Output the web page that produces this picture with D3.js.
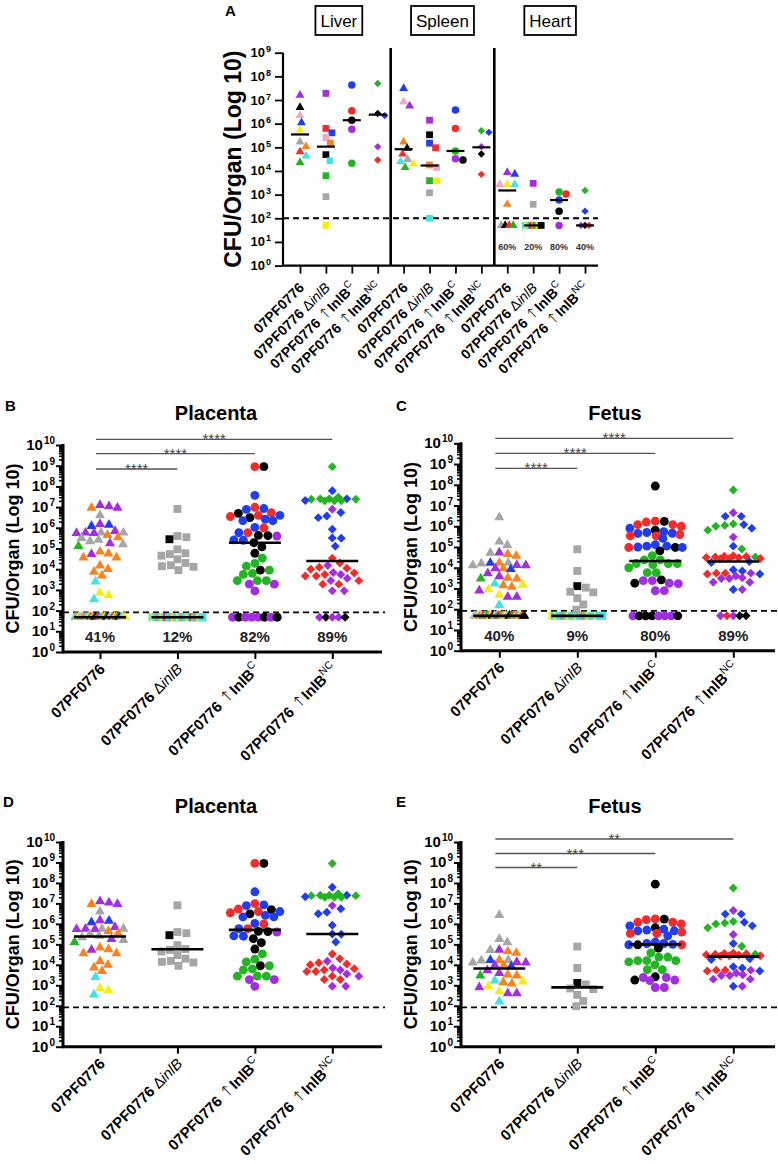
<!DOCTYPE html>
<html><head><meta charset="utf-8">
<script src="https://cdn.jsdelivr.net/npm/d3@7"></script>
<style>
body{margin:0;background:#fff}
svg{display:block}
text{font-family:"Liberation Sans",Arial,Helvetica,sans-serif}
</style>
</head><body>
<svg id="chart" width="778" height="1164"></svg>
<script>
// ================= DATA =================
const organs = ["Liver","Spleen","Heart"];
const strains = ["07PF0776","07PF0776 ΔinlB","07PF0776 ↑InlB^C","07PF0776 ↑InlB^NC"];
const yExponentsA = [0,1,2,3,4,5,6,7,8,9];
const yExponentsB = [0,1,2,3,4,5,6,7,8,9,10];
const heartPositive = ["60%","20%","80%","40%"];
const lodA = 100;

// Panel A: [animal colour key, CFU]
const liverWT  = [["p",1.6e7],["k",4.9e6],["pk",2.2e6],["b",1.1e6],["y",5.4e5],["g",1.7e5],["o",1.1e5],["r",6.5e4],["c",4.3e4],["gr",2.3e4]];
const liverDel = [["p",1.9e7],["r",6.3e5],["b",4.1e5],["pk",2.6e5],["o",1.5e5],["k",4.9e4],["c",2.7e4],["gr",6.3e3],["g",8.2e2],["y",50]];
const liverC   = [["b",4.3e7],["r",3.5e6],["k",1.4e6],["p",5.8e5],["gr",2.1e4]];
const liverNC  = [["gr",5e7],["k",2.7e6],["b",2.2e6],["p",1.07e5],["r",2.9e4]];
const spleenWT  = [["b",3.1e7],["pk",8.5e6],["p",5.6e6],["o",1.7e5],["k",9.1e4],["r",5.2e4],["g",3.1e4],["c",2.5e4],["y",2e4],["gr",1.4e4]];
const spleenDel = [["p",1.4e6],["k",3.4e5],["b",1.5e5],["r",9.6e4],["o",1.8e4],["pk",1.4e4],["y",3.8e3],["gr",3.9e3],["g",1.2e3],["c",100]];
const spleenC   = [["b",3.8e6],["r",6.3e5],["gr",7e4],["k",2.9e4],["p",3.3e4]];
const spleenNC  = [["b",4.3e5],["gr",5e5],["p",1.07e5],["k",5.2e4],["r",7.2e3]];
const heartWT  = [["p",8.7e3],["b",7.4e3],["y",2.7e3],["c",2.7e3],["pk",2.7e3],["o",3.9e2],["g",50],["k",50],["r",50],["gr",50]];
const heartDel = [["p",3e3],["g",3.9e2],["c",50],["y",50],["c",50],["r",50],["o",50],["gr",50],["y",50],["k",50]];
const heartC   = [["gr",1.3e3],["r",1.07e3],["b",5.9e2],["k",2e2],["p",50]];
const heartNC  = [["gr",1.5e3],["b",2e2],["p",50],["k",50],["r",50]];
const mediansA = [3.5e5,1.07e5,1.4e6,2.4e6, 8.3e4,1.7e4,7e4,1.0e5, 1.5e3,50,5.9e2,50];

// Panels B-E
const lodB = 83;
const negValue = 48;
const placentaWT = [["o",9.3e6],["p",1.26e7],["p",9.3e6],["p",1.1e7],["g",4e6],["b",1.4e6],["b",1.2e6],["p",1.5e6],["o",4.5e5],["g",5.8e5],["p",5.5e5],["p",5.8e5],["p",6.9e5],["g",5.8e5],["p",5.5e5],["o",3.5e5],["g",3.2e5],["g",1.6e5],["g",2.2e5],["g",2.6e5],["p",1.8e5],["gr",1.3e5],["o",7e4],["p",5.4e4],["o",5.7e4],["o",3.6e4],["o",3.6e4],["o",1.5e4],["o",4.9e3],["o",1e4],["o",7.4e3],["c",2.5e3],["y",7.3e2],["y",5.5e2],["c",3.5e2]];
const placentaDel = [["g",8.1e6],["k",2.8e5],["g",4e5],["g",3.5e5],["g",9.1e4],["g",4.5e4],["g",3e4],["g",2e4],["g",1.3e4],["g",9e3],["g",5.9e4],["g",5.4e4],["g",1.55e4],["g",1.4e4]];
const placentaC = [["r",9e8],["k",9e8],["b",3.7e7],["b",7.8e6],["r",9.8e6],["b",8.5e6],["r",3.5e6],["r",4e6],["k",5e6],["r",5.3e6],["b",4e6],["k",3.1e6],["b",2.2e6],["b",2.2e6],["b",2.6e6],["b",1.05e6],["r",1e6],["r",5.8e5],["b",5.8e5],["k",4.2e5],["p",4e5],["k",4.3e5],["b",2.6e5],["b",2.5e5],["k",1.9e5],["k",1.2e5],["k",5.9e4],["gr",3.4e4],["gr",1.9e4],["gr",1.4e4],["gr",6.3e3],["k",9e3],["gr",9e3],["gr",5.6e3],["gr",2.8e3],["gr",2.8e3],["gr",2.8e3],["p",1.9e3],["p",1.9e3],["p",8.9e2]];
const placentaNC = [["gr",9e8],["b",6.2e7],["gr",3e7],["gr",2.5e7],["gr",2.5e7],["gr",2e7],["gr",2e7],["gr",2.4e7],["gr",2e7],["gr",2.4e7],["b",2.5e7],["b",2.1e7],["p",7.8e6],["b",3.7e6],["b",5.5e6],["b",3.1e6],["b",8.5e5],["b",3.1e5],["b",3.2e5],["b",1.3e5],["r",3.4e4],["r",2e4],["r",1.1e4],["r",1.25e4],["p",1.5e4],["r",1e4],["p",7e3],["r",6.5e3],["r",4.7e3],["r",4.7e3],["r",5.6e3],["p",5.6e3],["p",2.8e3],["r",2.8e3],["p",3.6e3],["r",1.9e3],["r",1.9e3],["p",9e2],["p",9e2]];
const placentaNegWT  = ["c","o","y","c","pk","o","g","c","y","r","pk","gr","k","r","p","c","o","y","gr","k","pk","c","r","y","o","gr","k","c","pk","y"];
const placentaNegDel = ["c","y","c","c","o","c","y","c","r","c","c","o","y","c","c","y","c","o","c","c","y","c","r","c","o","c","y","c"];
const placentaNegC   = ["p","k","p","p","p","k","p","k"];
const placentaNegNC  = ["p","k","p","p","k"];

const fetusWT = [["g",2.7e6],["g",1.8e5],["g",1.25e5],["o",3.8e4],["g",5.3e4],["o",4.5e4],["p",5.4e4],["o",1.7e4],["g",1.7e4],["g",1.6e4],["p",1.35e4],["p",1.3e4],["g",1.3e4],["b",1.7e4],["o",9.4e3],["p",9.4e3],["b",8.5e3],["p",5.4e3],["o",3.3e3],["p",3.9e3],["o",3e3],["gr",3e3],["y",1.5e3],["o",1.4e3],["c",1.7e3],["o",1.2e3],["y",9e2],["p",8e2],["p",4e2],["y",5e2],["p",4e2],["c",1.6e2]];
const fetusDel = [["g",7.8e4],["g",7e3],["k",1.3e3],["g",7e2],["g",6.5e2],["g",1.1e3],["g",3.4e2],["g",1.7e2],["g",95]];
const fetusC = [["k",8.7e7],["k",1.7e6],["r",1.6e6],["r",1.75e6],["r",1.2e6],["r",1.2e6],["r",1e6],["k",6.5e5],["b",8e5],["b",2.6e5],["b",4.5e5],["b",5e5],["b",5.5e5],["r",4e5],["r",3.4e5],["r",3.4e5],["b",4.6e5],["b",1.1e5],["b",1.3e5],["b",1.1e5],["k",9.5e4],["r",9.5e4],["b",1e5],["b",9.5e4],["k",6.5e4],["gr",3.8e4],["gr",2.4e4],["gr",2.4e4],["gr",1.6e4],["gr",1.6e4],["gr",1.6e4],["gr",5.8e3],["gr",5.8e3],["gr",1e4],["gr",1.4e4],["p",1.8e3],["p",2.4e3],["p",1.7e3],["p",2.4e3],["k",1.8e3],["k",2.6e3],["p",7.8e2],["p",7.8e2]];
const fetusNC = [["gr",5.6e7],["p",4.5e6],["b",3e6],["b",3e6],["b",1.2e6],["gr",1.3e6],["gr",1.1e6],["gr",1e6],["b",8e5],["gr",6.5e5],["p",3e5],["b",1.1e5],["gr",8e4],["r",3.5e4],["r",3.3e4],["r",3e4],["gr",3.3e4],["r",3.6e4],["r",3.8e4],["r",3.1e4],["r",2.8e4],["r",2.7e4],["r",2.8e4],["b",2e4],["b",1.8e4],["b",7e3],["b",8e3],["r",5.5e3],["r",5.5e3],["r",5e3],["b",5e3],["p",5.5e3],["p",4e3],["p",3e3],["p",3.3e3],["p",3e3],["p",2e3],["p",2e3],["b",9e2],["p",9e2]];
const fetusNegWT  = ["pk","c","y","o","pk","r","c","gr","o","y","k","pk","c","r","gr","o","pk","y","c","k","r","gr","pk","o","c","y","r","k"];
const fetusNegDel = ["y","c","y","c","c","o","c","y","c","c","y","c","c","o","c","y","c","c","y","c","c"];
const fetusNegC   = ["p","k","k","k","p","p","p","k"];
const fetusNegNC  = ["p","r","p","k","k"];

const mediansB = [48,48,1.9e5,2.5e4];
const mediansC = [48,48,2.1e4,2.0e4];
const mediansD = [2.4e5,5.8e4,5.1e5,3.2e5];
const mediansE = [6.6e3,7.9e2,1.0e5,2.5e4];
const percentB = ["41%","12%","82%","89%"];
const percentC = ["40%","9%","80%","89%"];
const sigB = [[0,1,"****"],[0,2,"****"],[0,3,"****"]];
const sigC = [[0,1,"****"],[0,2,"****"],[0,3,"****"]];
const sigE = [[0,1,"**"],[0,2,"***"],[0,3,"**"]];

// ================= DRAWING =================
const palette = {o:"#F7841F", p:"#A22DE2", g:"#A6A6A6", b:"#1F3DF2", c:"#3EE4EA", y:"#F7EC17", gr:"#22B422", pk:"#F4A5C8", r:"#F32B2B", k:"#000000"};
const symbolTypes = [d3.symbolTriangle, d3.symbolSquare, d3.symbolCircle, d3.symbolSquare];
const svg = d3.select("#chart");

function labelParts(s){
  const i = s.indexOf(" ");
  if (i < 0) return [{t:s, w:"bold"}];
  const base = s.slice(0,i+1), rest = s.slice(i+1);
  const parts = [{t:base, w:"bold"}];
  if (rest[0] === "Δ") { parts.push({t:"Δ", w:"normal"}); parts.push({t:rest.slice(1), w:"normal", it:true}); }
  else if (rest[0] === "↑") { const [gene, sup] = rest.slice(1).split("^"); parts.push({t:"↑", w:"normal", arrow:true}); parts.push({t:gene, w:"bold"}); if (sup) parts.push({t:sup, w:"normal", sup:true}); }
  else parts.push({t:rest, w:"bold"});
  return parts;
}

function strainLabel(g, s, x, y, fs, supFs){
  const t = g.append("text").attr("transform", `translate(${x},${y}) rotate(-45)`)
    .attr("text-anchor","end").attr("font-size", fs).attr("fill","#000");
  labelParts(s).forEach(p => {
    const ts = t.append("tspan").text(p.t).attr("font-weight", p.w);
    if (p.it) ts.attr("font-style","italic");
    if (p.arrow) ts.attr("font-family","'DejaVu Sans Light','DejaVu Sans',sans-serif").attr("font-weight",200).attr("font-size", fs*1.05);
    if (p.sup) ts.attr("font-size", supFs).attr("dy", -fs*0.45);
  });
}

function swarm(pts, yS, cx, diam, maxHalf){
  const items = pts.map((p,i)=>({c:p[0], v:p[1], y:yS(p[1]), i})).sort((a,b)=>a.y-b.y || a.i-b.i);
  const placed = [];
  for (const p of items){
    let d = diam, found = null;
    while (found === null){
      for (let k=0; k<=maxHalf*4; k++){
        const o = (k%2 ? 1 : -1) * Math.ceil(k/2) * 0.5;
        if (Math.abs(o) > maxHalf) break;
        const x = cx + o;
        if (placed.every(q => (q.x-x)*(q.x-x) + (q.y-p.y)*(q.y-p.y) >= d*d)) { found = o; break; }
      }
      d *= 0.88;
      if (d < 1 && found === null) found = 0;
    }
    p.x = cx + found; placed.push(p);
  }
  return placed;
}
function rowLayout(colors, v, yS, cx, maxStep, maxW){
  const n = colors.length, step = n > 1 ? Math.min(maxStep, maxW/(n-1)) : 0;
  return colors.map((c,i)=>({c, v, y:yS(v), x:cx + (i-(n-1)/2)*step}));
}
function drawMarkers(g, pts, gi, sizes){
  pts.forEach(p => {
    g.append("path").attr("d", d3.symbol(symbolTypes[gi], sizes[gi])())
      .attr("transform", `translate(${p.x},${p.y})${gi===3?" rotate(45)":""}`)
      .attr("fill", palette[p.c]);
  });
}
function yTickLabels(g, yS, exps, xEnd, fs, supFs, dyBase, supDy){
  exps.forEach(e => {
    const t = g.append("text").attr("x", xEnd).attr("y", yS(10**e) + dyBase)
      .attr("text-anchor","end").attr("font-weight","bold").attr("font-size", fs);
    t.append("tspan").text("10");
    t.append("tspan").text(String(e)).attr("font-size", supFs).attr("dy", supDy).attr("dx", 1);
  });
}

// ---------- Panel A ----------
(function(){
  const g = svg.append("g");
  const yA = d3.scaleLog().domain([1,1e9]).range([265.6,52.7]);
  const keys = d3.range(12);
  const xA = d3.scalePoint().domain(keys).range([300,585]);
  const left = 283, right = 598, bottom = yA(1);
  const dataA = [liverWT,liverDel,liverC,liverNC, spleenWT,spleenDel,spleenC,spleenNC, heartWT,heartDel,heartC,heartNC];
  const sizes = [34, 46, 44, 27];

  g.append("text").attr("x",225).attr("y",16).attr("font-weight","bold").attr("font-size",15).text("A");

  const ya = g.append("g").attr("transform",`translate(${left},0)`)
    .call(d3.axisLeft(yA).tickValues(yExponentsA.map(e=>10**e)).tickSize(8).tickSizeOuter(0).tickFormat(""));
  ya.select(".domain").remove();
  ya.selectAll(".tick line").attr("stroke-width",1.8);
  g.append("line").attr("x1",left).attr("x2",left).attr("y1",yA(1e9)).attr("y2",bottom).attr("stroke","#000").attr("stroke-width",2.2);
  yTickLabels(g, yA, yExponentsA, 271, 13, 9, 4.5, -5);

  const xa = g.append("g").attr("transform",`translate(0,${bottom})`)
    .call(d3.axisBottom(xA).tickSize(8).tickSizeOuter(0).tickFormat(""));
  xa.select(".domain").remove();
  xa.selectAll(".tick line").attr("stroke-width",1.8);
  g.append("line").attr("x1",left).attr("x2",right).attr("y1",bottom).attr("y2",bottom).attr("stroke","#000").attr("stroke-width",2.2);

  [3,7].forEach(k => {
    const sx = (xA(k)+xA(k+1))/2;
    g.append("line").attr("x1",sx).attr("x2",sx).attr("y1",48).attr("y2",bottom).attr("stroke","#000").attr("stroke-width",2.6);
  });

  g.append("line").attr("x1",left).attr("x2",right).attr("y1",yA(lodA)).attr("y2",yA(lodA))
    .attr("stroke","#000").attr("stroke-width",2).attr("stroke-dasharray","6,4");

  organs.forEach((o,oi) => {
    const cx = (xA(oi*4)+xA(oi*4+3))/2 + (oi===2 ? 4 : 0);
    const t = g.append("text").attr("x",cx).attr("y",27).attr("text-anchor","middle").attr("font-size",17).text(o);
    const w = t.node().getComputedTextLength() + 10;
    g.insert("rect","text").attr("x",cx-w/2).attr("y",6).attr("width",w).attr("height",29)
      .attr("fill","none").attr("stroke","#000").attr("stroke-width",1.8);
  });

  dataA.forEach((arr,k) => {
    const gi = k % 4, cx = xA(k);
    const pos = arr.filter(p => p[1] >= lodA);
    const neg = arr.filter(p => p[1] < lodA);
    const pts = swarm(pos, yA, cx, 7.2, 10);
    const negPts = rowLayout(neg.map(p=>p[0]), neg.length ? neg[0][1] : 50, yA, cx, 4, 16);
    drawMarkers(g, negPts, gi, sizes);
    drawMarkers(g, pts, gi, sizes);
    const my = yA(mediansA[k]);
    g.append("line").attr("x1",cx-9).attr("x2",cx+9).attr("y1",my).attr("y2",my).attr("stroke","#000").attr("stroke-width",2.2);
  });

  heartPositive.forEach((p,i) => {
    g.append("text").attr("x",xA(8+i)).attr("y",bottom-15.5).attr("text-anchor","middle")
      .attr("font-weight","bold").attr("font-size",9).attr("fill","#333").text(p);
  });

  g.append("text").attr("transform",`translate(233,${(yA(1e9)+bottom)/2}) rotate(-90)`)
    .attr("text-anchor","middle").attr("dominant-baseline","central")
    .attr("font-weight","bold").attr("font-size",23).text("CFU/Organ (Log 10)");

  keys.forEach(k => strainLabel(g, strains[k%4], xA(k)+5, bottom+23, 14, 10));
})();

// ---------- Panels B-E ----------
function drawPanel(cfg){
  const g = svg.append("g");
  const yS = d3.scaleLog().domain([1,1e10]).range([cfg.bottom, cfg.top]);
  const xS = d3.scalePoint().domain(strains).range([cfg.x0, cfg.x1]);
  const sizes = [44, 62, 62, 40];

  g.append("text").attr("x",cfg.letterX).attr("y",cfg.letterY).attr("font-weight","bold").attr("font-size",15).text(cfg.letter);
  g.append("text").attr("x",cfg.titleX).attr("y",cfg.titleY).attr("text-anchor","middle")
    .attr("font-weight","bold").attr("font-size",20).text(cfg.title);

  const minors = [];
  yExponentsB.slice(0,-1).forEach(e => { for (let m=2;m<=9;m++) minors.push(m*10**e); });
  const ym = g.append("g").attr("transform",`translate(${cfg.left},0)`)
    .call(d3.axisLeft(yS).tickValues(minors).tickSize(4).tickSizeOuter(0).tickFormat(""));
  ym.select(".domain").remove();
  ym.selectAll(".tick line").attr("stroke-width",1.6);
  const yM = g.append("g").attr("transform",`translate(${cfg.left},0)`)
    .call(d3.axisLeft(yS).tickValues(yExponentsB.map(e=>10**e)).tickSize(7).tickSizeOuter(0).tickFormat(""));
  yM.select(".domain").remove();
  yM.selectAll(".tick line").attr("stroke-width",2);
  g.append("line").attr("x1",cfg.left).attr("x2",cfg.left).attr("y1",cfg.top-1).attr("y2",cfg.bottom+1.5)
    .attr("stroke","#000").attr("stroke-width",3);
  yTickLabels(g, yS, yExponentsB, cfg.left-8, 15, 10, 5, -6);

  const xa = g.append("g").attr("transform",`translate(0,${cfg.bottom})`)
    .call(d3.axisBottom(xS).tickSize(7).tickSizeOuter(0).tickFormat(""));
  xa.select(".domain").remove();
  xa.selectAll(".tick line").attr("stroke-width",2);
  g.append("line").attr("x1",cfg.left).attr("x2",cfg.right).attr("y1",cfg.bottom).attr("y2",cfg.bottom)
    .attr("stroke","#000").attr("stroke-width",3);

  g.append("line").attr("x1",cfg.left).attr("x2",cfg.right+3).attr("y1",yS(lodB)).attr("y2",yS(lodB))
    .attr("stroke","#000").attr("stroke-width",1.8).attr("stroke-dasharray","6,4");

  cfg.groups.forEach((arr,gi) => {
    const cx = xS(strains[gi]);
    if (cfg.negs) {
      const negPts = rowLayout(cfg.negs[gi], negValue, yS, cx, 6.4, 50);
      drawMarkers(g, negPts, gi, sizes);
    }
    drawMarkers(g, swarm(arr, yS, cx, 8.6, 27), gi, sizes);
    const my = yS(cfg.medians[gi]);
    g.append("line").attr("x1",cx-26).attr("x2",cx+26).attr("y1",my).attr("y2",my).attr("stroke","#000").attr("stroke-width",2.6);
  });

  if (cfg.pct) cfg.pct.forEach((p,i) => {
    g.append("text").attr("x",xS(strains[i])).attr("y",cfg.bottom-10).attr("text-anchor","middle")
      .attr("font-weight","bold").attr("font-size",15).attr("fill","#222").text(p);
  });

  if (cfg.sig) cfg.sig.forEach((s,i) => {
    const y = cfg.top + cfg.sigOffsets[s[1]-1];
    const xa0 = xS(strains[s[0]]) - 4, xa1 = xS(strains[s[1]]);
    g.append("line").attr("x1",xa0).attr("x2",xa1).attr("y1",y).attr("y2",y).attr("stroke","#555").attr("stroke-width",1.3);
    g.append("text").attr("x",(xa0+xa1)/2).attr("y",y+5).attr("text-anchor","middle")
      .attr("font-size",15).attr("fill","#444").text(s[2]);
  });

  g.append("text").attr("transform",`translate(${cfg.yTitleX},${(cfg.top+cfg.bottom)/2}) rotate(-90)`)
    .attr("text-anchor","middle").attr("dominant-baseline","central")
    .attr("font-weight","bold").attr("font-size",18).text("CFU/Organ (Log 10)");

  strains.forEach(s => strainLabel(g, s, xS(s)+6, cfg.bottom+18, 15, 10.5));
}

drawPanel({letter:"B", letterX:5, letterY:411, title:"Placenta", titleX:216, titleY:420,
  left:63, right:382, top:445, bottom:652, x0:100, x1:332.3, yTitleX:13,
  groups:[placentaWT,placentaDel,placentaC,placentaNC], negs:[placentaNegWT,placentaNegDel,placentaNegC,placentaNegNC],
  medians:mediansB, pct:percentB, sig:sigB, sigOffsets:[24,8.7,-5.7]});
drawPanel({letter:"C", letterX:396, letterY:411, title:"Fetus", titleX:615, titleY:420,
  left:461, right:775, top:443.3, bottom:650.7, x0:499.3, x1:733.3, yTitleX:410.5,
  groups:[fetusWT,fetusDel,fetusC,fetusNC], negs:[fetusNegWT,fetusNegDel,fetusNegC,fetusNegNC],
  medians:mediansC, pct:percentC, sig:sigC, sigOffsets:[25,10,-5]});
drawPanel({letter:"D", letterX:3, letterY:807, title:"Placenta", titleX:216, titleY:813,
  left:63, right:382, top:842, bottom:1046.7, x0:100, x1:332.3, yTitleX:13,
  groups:[placentaWT,placentaDel,placentaC,placentaNC], negs:null,
  medians:mediansD, pct:null, sig:null});
drawPanel({letter:"E", letterX:396, letterY:807, title:"Fetus", titleX:615, titleY:813,
  left:461, right:775, top:842, bottom:1046.7, x0:499.3, x1:733.3, yTitleX:410.5,
  groups:[fetusWT,fetusDel,fetusC,fetusNC], negs:null,
  medians:mediansE, pct:null, sig:sigE, sigOffsets:[25.5,11.5,-3]});
</script>
</body></html>
